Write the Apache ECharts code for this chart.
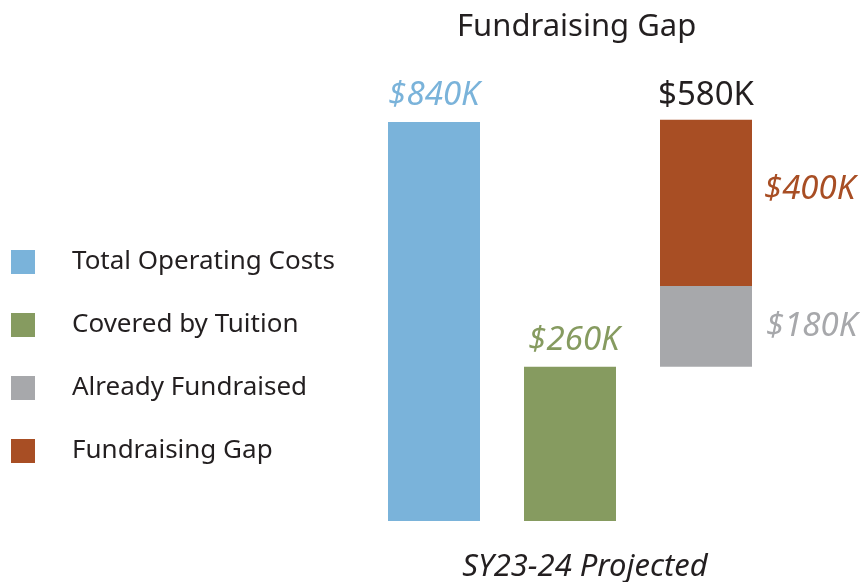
<!DOCTYPE html>
<html>
<head>
<meta charset="utf-8">
<script src="https://cdn.jsdelivr.net/npm/echarts@6/dist/echarts.min.js"></script>
<style>
  html, body { margin: 0; padding: 0; background: #fff; }
  #chart { width: 860px; height: 582px; }
</style>
</head>
<body>
<div id="chart"></div>
<script>
// categories on the x axis (one bar column each)
var categories = ['Total', 'Tuition', 'Fundraising'];

// bar heights as drawn in the picture (thousands)
var totalCosts   = [840, '-', '-'];
var tuition      = ['-', 325, '-'];
var offsetBase   = ['-', '-', 325];
var fundraised   = ['-', '-', 170];
var gap          = ['-', '-', 350];
var gapTop       = ['-', '-', 0];

// label texts
var totalLabel = '$840K';
var tuitionLabel = '$260K';
var fundraisedLabel = '$180K';
var gapLabel = '$400K';
var needLabel = '$580K';

var names = ['Total Operating Costs', 'Covered by Tuition', 'Already Fundraised', 'Fundraising Gap'];
var colors = ['#7AB3DA', '#869B60', '#A7A8AB', '#A84E24'];
var ink = '#231F20';
var font = 'Noto Sans';

var chart = echarts.init(document.getElementById('chart'));

chart.setOption({
  animation: false,
  textStyle: { fontFamily: font },
  title: {
    text: 'Fundraising Gap',
    left: 452,
    top: 7,
    textStyle: { fontFamily: font, fontSize: 31, fontWeight: 'normal', color: ink }
  },
  legend: {
    orient: 'vertical',
    left: 11,
    top: 249,
    padding: 0,
    icon: 'rect',
    itemWidth: 24,
    itemHeight: 24,
    itemGap: 37,
    data: names,
    textStyle: { fontFamily: font, fontSize: 26, color: ink, padding: [0, 0, 0, 32] }
  },
  grid: { left: 366, right: 86, top: 46, bottom: 61, outerBoundsMode: 'none' },
  xAxis: {
    type: 'category',
    data: categories,
    axisLine: { show: false },
    axisTick: { show: false },
    axisLabel: { show: false },
    name: 'SY23-24 Projected',
    nameLocation: 'middle',
    nameGap: 31,
    nameTextStyle: { fontFamily: font, fontSize: 31, fontStyle: 'italic', color: ink, padding: [0, 0, 0, 30] }
  },
  yAxis: { type: 'value', min: 0, max: 1000, show: false },
  series: [
    {
      name: names[0], type: 'bar', stack: 's', barWidth: 92, data: totalCosts,
      itemStyle: { color: colors[0] },
      label: { show: true, position: 'top', distance: 10, formatter: totalLabel,
        fontFamily: font, fontSize: 33, fontStyle: 'italic', color: colors[0] }
    },
    {
      name: names[1], type: 'bar', stack: 's', barWidth: 92, data: tuition,
      itemStyle: { color: colors[1] },
      label: { show: true, position: 'top', distance: 10, offset: [4, 0], formatter: tuitionLabel,
        fontFamily: font, fontSize: 33, fontStyle: 'italic', color: colors[1] }
    },
    {
      name: 'base', type: 'bar', stack: 's', barWidth: 92, data: offsetBase,
      itemStyle: { color: 'transparent' }, silent: true
    },
    {
      name: names[2], type: 'bar', stack: 's', barWidth: 92, data: fundraised,
      itemStyle: { color: colors[2] },
      label: { show: true, position: 'right', distance: 14, formatter: fundraisedLabel,
        fontFamily: font, fontSize: 33, fontStyle: 'italic', color: colors[2] }
    },
    {
      name: names[3], type: 'bar', stack: 's', barWidth: 92, data: gap,
      itemStyle: { color: colors[3] },
      label: { show: true, position: 'right', distance: 12, offset: [0, -13], formatter: gapLabel,
        fontFamily: font, fontSize: 33, fontStyle: 'italic', color: colors[3] }
    },
    {
      name: 'need', type: 'bar', stack: 's', barWidth: 92, data: gapTop,
      itemStyle: { color: 'transparent' }, silent: true,
      label: { show: true, position: 'top', distance: 8, formatter: needLabel,
        fontFamily: font, fontSize: 33, color: ink }
    }
  ]
});
</script>
</body>
</html>
